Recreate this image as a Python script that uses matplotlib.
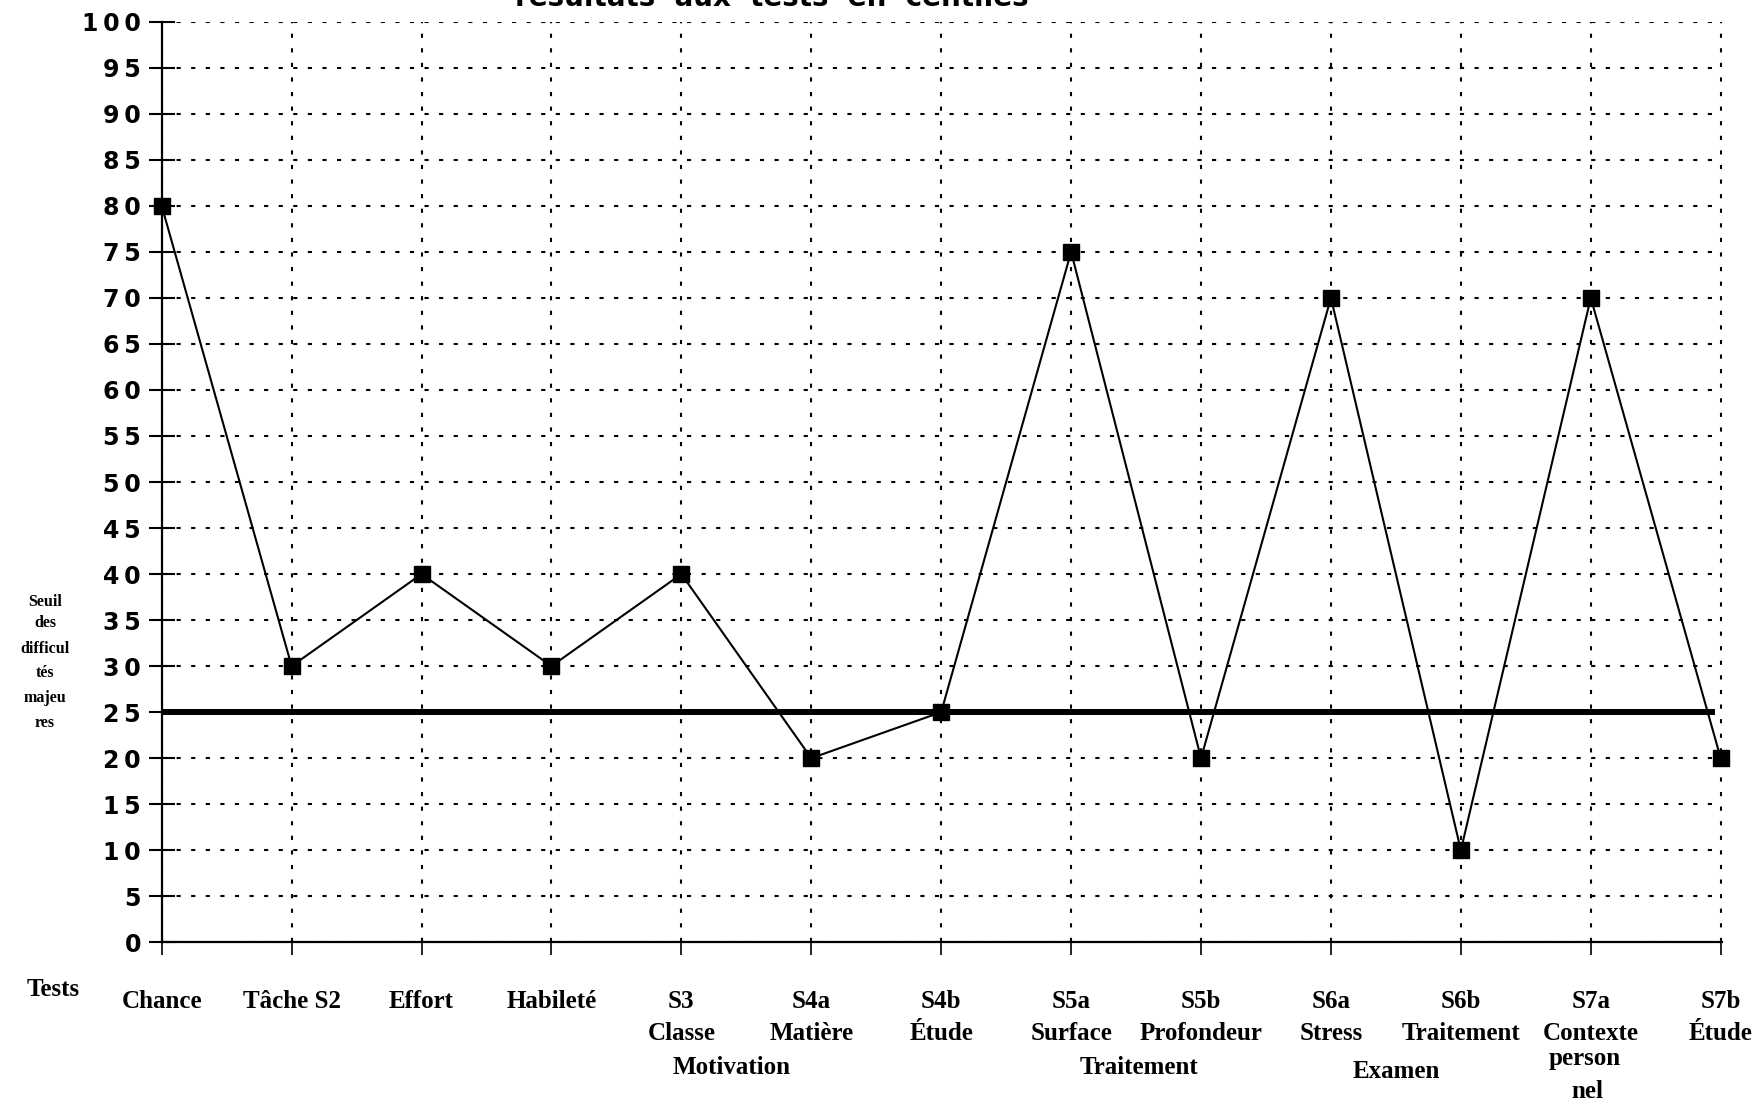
import matplotlib
matplotlib.use("Agg")
import matplotlib.pyplot as plt
from matplotlib.transforms import blended_transform_factory

categories = ["Chance", "Tâche S2", "Effort", "Habileté", "S3\nClasse", "S4a\nMatière",
              "S4b\nÉtude", "S5a\nSurface", "S5b\nProfondeur", "S6a\nStress",
              "S6b\nTraitement", "S7a\nContexte", "S7b\nÉtude"]
values = [80, 30, 40, 30, 40, 20, 25, 75, 20, 70, 10, 70, 20]
seuil = 25
yticks = list(range(0, 101, 5))
group_labels = ["Motivation", "Traitement", "Examen"]
group_pos = [4.39, 7.52, 9.5]
seuil_label = ["Seuil", "des", "difficul", "tés", "majeu", "res"]
title = "résultats  aux  tests  en  centiles"

W, H = 1754, 1103
fig = plt.figure(figsize=(W / 100, H / 100), dpi=100)
x0, x1 = 161.7, 1722.0
y0, y1 = 942.3, 21.7
ax = fig.add_axes([x0 / W, 1 - y0 / H, (x1 - x0) / W, (y0 - y1) / H])

xs = list(range(len(categories)))
ax.set_xlim(0, 12.01)
ax.set_ylim(0, 100)

# grid
ax.set_yticks(yticks)
ax.set_xticks(xs)
ax.grid(True, color="black", linestyle=(0, (2, 5)), linewidth=1.5)
ax.set_axisbelow(True)

for s in ["top", "right"]:
    ax.spines[s].set_visible(False)
for s in ["left", "bottom"]:
    ax.spines[s].set_linewidth(1.6)
    ax.spines[s].set_color("black")

# threshold line
ax.axhline(seuil, xmin=0, xmax=(1712 - x0) / (x1 - x0), color="black", linewidth=4.3, zorder=3)

# data line
ax.plot(xs, values, color="black", linewidth=1.5, marker="s", markersize=11,
        clip_on=False, zorder=4)

ax.tick_params(axis="y", direction="inout", length=18.7, width=1.5, pad=5.5)
ax.tick_params(axis="x", direction="out", length=9, width=1.2, pad=25)
ax.set_yticklabels(["\u2009".join(str(v)) for v in yticks], fontfamily="DejaVu Sans",
                   fontweight="bold", fontsize=17)
ax.set_xticklabels(categories, fontfamily="Liberation Serif", fontweight="bold",
                   fontsize=18, linespacing=1.55)

trans = blended_transform_factory(ax.transData, fig.transFigure)
def fy(py):
    return 1 - py / H

for lab, xp in zip(group_labels, group_pos):
    yy = 1067 if lab != "Examen" else 1071
    ax.text(xp, fy(yy), lab, transform=trans, ha="center", va="center",
            fontfamily="Liberation Serif", fontweight="bold", fontsize=18)
ax.text(10.95, fy(1059), "person", transform=trans, ha="center", va="center",
        fontfamily="Liberation Serif", fontweight="bold", fontsize=18)
ax.text(10.97, fy(1092), "nel", transform=trans, ha="center", va="center",
        fontfamily="Liberation Serif", fontweight="bold", fontsize=18)

fig.text(53 / W, fy(989), "Tests", ha="center", va="center",
         fontfamily="Liberation Serif", fontweight="bold", fontsize=18)

for i, s in enumerate(seuil_label):
    yy = [602, 623, 649, 673, 698, 723][i]
    fig.text(45 / W, fy(yy), s, ha="center", va="center",
             fontfamily="Liberation Serif", fontweight="bold", fontsize=11.5)

fig.text(772 / W, fy(6), title, ha="center", va="baseline",
         fontfamily="DejaVu Sans", fontweight="bold", fontsize=20)

fig.savefig("out.png", dpi=100, facecolor="white")
